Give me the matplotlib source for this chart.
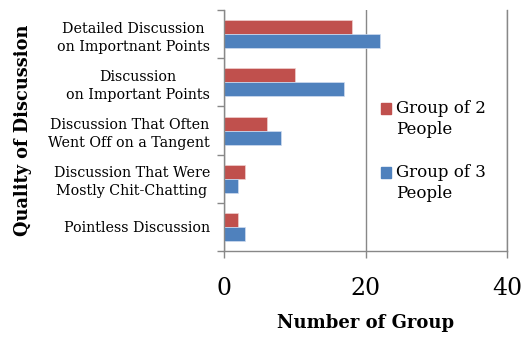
import numpy as np
import matplotlib.pyplot as plt
from matplotlib.patches import Rectangle

categories = ['Detailed Discussion\non Importnant Points',
              'Discussion\non Important Points',
              'Discussion That Often\nWent Off on a Tangent',
              'Discussion That Were\nMostly Chit-Chatting',
              'Pointless Discussion']
group2 = [18, 10, 6, 3, 2]
group3 = [22, 17, 8, 2, 3]
series_names = ['Group of 2\nPeople', 'Group of 3\nPeople']
xticks = [0, 20, 40]

red = '#C0504D'
blue = '#4F81BD'
grey = '#888888'

plt.rcParams['font.family'] = 'DejaVu Serif'

fig = plt.figure(figsize=(5.25, 3.37), dpi=100)
ax = fig.add_axes([0.4267, 0.255, 0.5397, 0.715])

y = np.arange(len(categories))
h = 0.29
ax.barh(y - h / 2, group2, height=h, color=red, edgecolor='#f0d0d0', linewidth=0.5)
ax.barh(y + h / 2, group3, height=h, color=blue, edgecolor='#d0dcf0', linewidth=0.5)

ax.set_ylim(len(categories) - 0.5, -0.5)
ax.set_xlim(0, 40)

ax.set_yticks(y)
ax.set_yticklabels(categories, fontsize=10.3, multialignment='center', linespacing=1.35)
ax.set_yticks(np.arange(len(categories) + 1) - 0.5, minor=True)
ax.tick_params(axis='y', which='major', length=0, pad=10)
ax.tick_params(axis='y', which='minor', length=5, color=grey, width=1)

ax.set_xticks(xticks)
ax.tick_params(axis='x', length=5, color=grey, width=1, labelsize=17, pad=14)
ax.xaxis.grid(True, color=grey, linewidth=1)
ax.set_axisbelow(True)

ax.spines['top'].set_visible(False)
for s in ['left', 'bottom', 'right']:
    ax.spines[s].set_color(grey)
    ax.spines[s].set_linewidth(1)

ax.set_xlabel('Number of Group', fontsize=13, fontweight='bold', labelpad=10)
fig.text(0.044, 0.614, 'Quality of Discussion', rotation=90, fontsize=12.8, fontweight='bold',
         ha='center', va='center')

# legend: square marker beside the first line of each two-line entry
for i, (name, col) in enumerate(zip(series_names, [red, blue])):
    top = 0.613 - i * 0.265
    ax.add_patch(Rectangle((0.555, top - 0.045), 0.036, 0.045, transform=ax.transAxes,
                           color=col, clip_on=False))
    ax.text(0.606, top + 0.012, name, transform=ax.transAxes, fontsize=12,
            va='top', ha='left', linespacing=1.3)

fig.savefig('out.png', dpi=100)
